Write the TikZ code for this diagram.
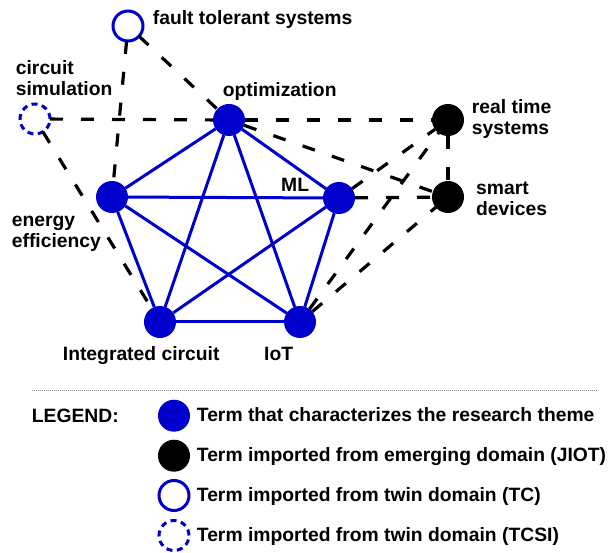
\documentclass[tikz,border=0pt]{standalone}
\usepackage{fontspec}
\setmainfont{Liberation Sans}
\definecolor{themeblue}{RGB}{0,0,204}
\begin{document}
\begin{tikzpicture}[x=1pt,y=-1pt,
  term/.style={circle, minimum size=32pt, inner sep=0pt, outer sep=0pt},
  core/.style={term, fill=themeblue},
  emerging/.style={term, fill=black},
  twin/.style={term, draw=themeblue, line width=3pt, minimum size=30pt},
  twinsi/.style={twin, dash pattern=on 6pt off 4.5pt},
  lbl/.style={font=\bfseries\fontsize{19.3}{21}\selectfont, inner sep=0pt, align=left, anchor=base west},
  coreedge/.style={draw=themeblue, line width=3pt},
  crossedge/.style={draw=black, line width=3.2pt, dash pattern=on 13pt off 18pt},
  sepline/.style={draw=black!45, line width=0.6pt, dash pattern=on 1pt off 1pt},
]
\useasboundingbox (0,0) rectangle (608,553);

% terms of the graph
\node[twin]     (fault)  at (128,26)  {};
\node[twinsi]   (csim)   at (35,119)  {};
\node[core]     (opt)    at (229,120) {};
\node[core]     (ml)     at (339,198) {};
\node[core]     (energy) at (112,197) {};
\node[core]     (ic)     at (160,322) {};
\node[core]     (iot)    at (300,322) {};
\node[emerging] (rts)    at (448,120) {};
\node[emerging] (smart)  at (448,197) {};

% labels (multi-line labels are anchored on their last line)
\node[lbl] (lfault)  at (152.7,25)  {fault tolerant systems};
\node[lbl] (lcsim)   at (15.7,96)   {circuit\\simulation};
\node[lbl] (lopt)    at (222.7,96.7) {optimization};
\node[lbl] (lml)     at (281,191.7) {ML};
\node[lbl] (lenergy) at (11.7,248)  {energy\\efficiency};
\node[lbl] (lic)     at (62.7,360)  {Integrated circuit};
\node[lbl] (liot)    at (264,360)   {IoT};
\node[lbl] (lrts)    at (471.7,134.3) {real time\\systems};
\node[lbl] (lsmart)  at (476,216)   {smart\\devices};

% links between the research-theme terms
\foreach \a/\b in {opt/ml, opt/energy, opt/ic, opt/iot, ml/energy, ml/ic, ml/iot, energy/ic, energy/iot, ic/iot}
  \draw[coreedge] (\a) -- (\b);

% links to imported terms
\foreach \a/\b in {fault/opt, fault/energy, csim/opt, csim/ic, opt/rts, opt/smart, ml/rts, ml/smart, iot/rts, iot/smart, rts/smart}
  \draw[crossedge] (\a) -- (\b);

% separator
\coordinate (sepL) at (32,390.7);
\coordinate (sepR) at (597,390.7);
\draw[sepline] (sepL) -- (sepR);

% legend
\node[lbl] (legtitle) at (31.7,422.3) {LEGEND:};
\node[core]     (k1) at (174,415.7) {};
\node[emerging] (k2) at (174,455.7) {};
\node[twin]     (k3) at (174,495.5) {};
\node[twinsi]   (k4) at (174,535.5) {};
\node[lbl] (t1) at (196.7,421.7) {Term that characterizes the research theme};
\node[lbl] (t2) at (196.7,461.7) {Term imported from emerging domain (JIOT)};
\node[lbl] (t3) at (196.7,501.7) {Term imported from twin domain (TC)};
\node[lbl] (t4) at (196.7,541.7) {Term imported from twin domain (TCSI)};
\end{tikzpicture}
\end{document}
